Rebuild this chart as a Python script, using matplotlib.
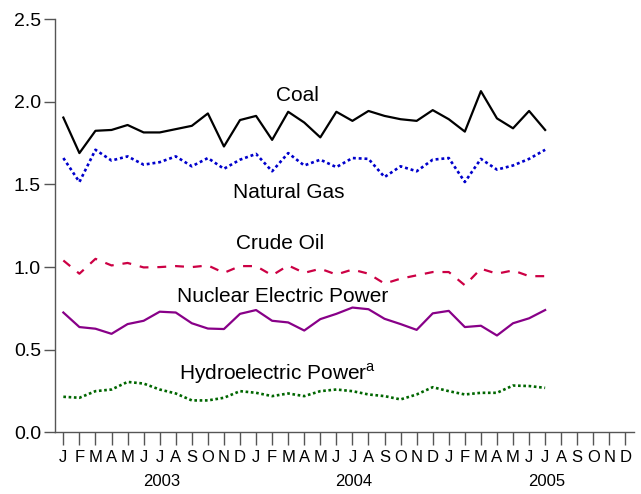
import numpy as np
import matplotlib
matplotlib.use("Agg")
import matplotlib.pyplot as plt

plt.rcParams['font.family'] = ['Liberation Sans', 'DejaVu Sans']
plt.rcParams['mathtext.fontset'] = 'custom'
plt.rcParams['mathtext.rm'] = 'Liberation Sans'

# monthly values, Jan 2003 - Jul 2005
coal = [1.905, 1.69, 1.825, 1.83, 1.86, 1.815, 1.815, 1.835, 1.855, 1.93,
        1.73, 1.89, 1.915, 1.77, 1.94, 1.875, 1.785, 1.94, 1.885, 1.945,
        1.915, 1.895, 1.885, 1.95, 1.895, 1.82, 2.065, 1.90, 1.84, 1.945, 1.83]
natural_gas = [1.66, 1.515, 1.71, 1.645, 1.67, 1.62, 1.635, 1.67, 1.61, 1.66,
               1.595, 1.65, 1.685, 1.58, 1.69, 1.615, 1.65, 1.605, 1.66, 1.655,
               1.545, 1.61, 1.58, 1.65, 1.66, 1.515, 1.655, 1.59, 1.615, 1.655, 1.71]
crude_oil = [1.04, 0.96, 1.05, 1.01, 1.025, 0.998, 1.0, 1.006, 1.0, 1.01,
             0.965, 1.006, 1.006, 0.95, 1.01, 0.965, 0.99, 0.955, 0.985, 0.96,
             0.90, 0.93, 0.95, 0.97, 0.97, 0.89, 0.99, 0.96, 0.98, 0.945, 0.945]
nuclear = [0.725, 0.637, 0.627, 0.596, 0.655, 0.675, 0.73, 0.725, 0.66, 0.628,
           0.625, 0.717, 0.74, 0.675, 0.665, 0.616, 0.685, 0.717, 0.755, 0.745,
           0.687, 0.655, 0.62, 0.72, 0.735, 0.637, 0.645, 0.586, 0.66, 0.69, 0.74]
hydro = [0.215, 0.209, 0.249, 0.259, 0.305, 0.295, 0.259, 0.235, 0.193, 0.193,
         0.209, 0.249, 0.239, 0.219, 0.235, 0.219, 0.249, 0.259, 0.249, 0.229,
         0.219, 0.199, 0.229, 0.273, 0.249, 0.229, 0.239, 0.239, 0.283, 0.28, 0.269]

month_letters = list("JFMAMJJASOND") * 3
years = ["2003", "2004", "2005"]

x = np.arange(len(coal))

fig = plt.figure(figsize=(6.41, 4.94), dpi=100)
ax = fig.add_axes([0.0858, 0.1249, 0.9032, 0.8361])

ax.plot(x, coal, color='black', lw=1.6)
ax.plot(x, natural_gas, color='#0000cc', lw=1.9, linestyle=(0, (1.1, 1.1)))
ax.plot(x, crude_oil, color='#cc0044', lw=1.6, linestyle=(0, (4, 4)))
ax.plot(x, nuclear, color='#880088', lw=1.6)
ax.plot(x, hydro, color='#006600', lw=1.9, linestyle=(0, (1.0, 1.0)))

lab_size = 15
ax.text(14.55, 2.04, "Coal", ha='center', va='center', fontsize=lab_size)
ax.text(14.05, 1.45, "Natural Gas", ha='center', va='center', fontsize=lab_size)
ax.text(13.5, 1.14, "Crude Oil", ha='center', va='center', fontsize=lab_size)
ax.text(13.67, 0.82, "Nuclear Electric Power", ha='center', va='center', fontsize=lab_size)
ax.text(13.35, 0.353, r"Hydroelectric Power$^{\mathrm{a}}$", ha='center', va='center',
        fontsize=lab_size)

ax.set_xlim(-0.52, 35.53)
ax.set_ylim(0, 2.5)
ax.set_yticks([0.0, 0.5, 1.0, 1.5, 2.0, 2.5])
ax.set_yticklabels(["0.0", "0.5", "1.0", "1.5", "2.0", "2.5"], fontsize=14)
ax.set_xticks(np.arange(36))
ax.set_xticklabels(month_letters, fontsize=12)

for sp in ['top', 'right']:
    ax.spines[sp].set_visible(False)
for sp in ['left', 'bottom']:
    ax.spines[sp].set_color('#555555')
    ax.spines[sp].set_linewidth(1.0)
ax.tick_params(axis='x', length=9, width=1, color='#555555', pad=4)
ax.tick_params(axis='y', length=8, width=1, color='#555555', pad=2)

for i, yr in enumerate(years):
    ax.text(6.1 + 12 * i, -0.3, yr, ha='center', va='center', fontsize=12,
            transform=ax.transData, clip_on=False)

fig.savefig("out.png", dpi=100)
